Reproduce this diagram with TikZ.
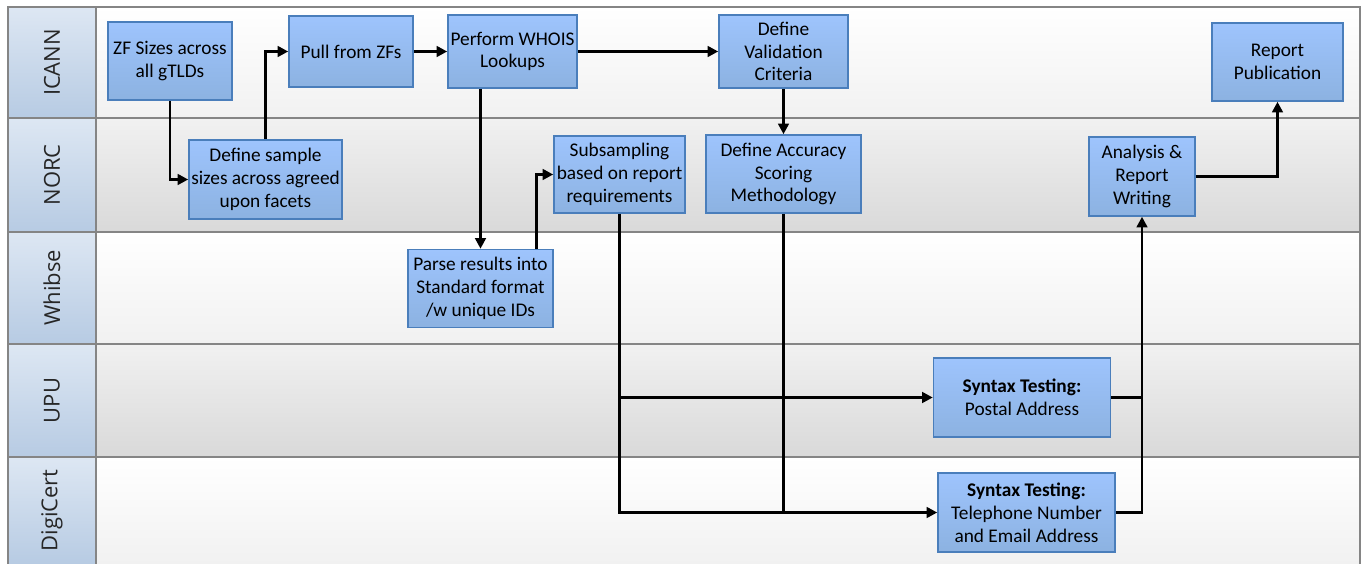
\documentclass[tikz,border=0pt]{standalone}
\usepackage{fontspec}
\setmainfont{Carlito}
\newfontfamily\lanefont{Open Sans}
\usetikzlibrary{positioning}
\usetikzlibrary{calc}
\usetikzlibrary{arrows.meta}
\definecolor{boxtop}{HTML}{9EC4FD}
\definecolor{boxbot}{HTML}{8CB2E1}
\definecolor{boxline}{HTML}{4A7EBB}
\definecolor{labtop}{HTML}{DDE7F3}
\definecolor{labbot}{HTML}{B7CBE3}
\definecolor{laneA}{HTML}{F1F1F1}
\definecolor{laneB}{HTML}{D9D9D9}
\definecolor{frameline}{HTML}{858585}

\begin{document}
\begin{tikzpicture}[x=0.02cm, y=-0.02cm, ->, >={Triangle[length=6pt,width=6pt]}, line width=1.6pt, task/.style={rectangle, draw=boxline, line width=0.9pt, top color=boxtop, bottom color=boxbot, align=center, inner sep=1pt}, lanelabel/.style={rotate=90, font=\lanefont\fontsize{12.5}{15}\selectfont, text=black!85}, every node/.style={font=\fontsize{11}{13}\selectfont}]

  \useasboundingbox (0,0) rectangle (1363,564);

  % swim lanes
  \begin{scope}[-]
  \foreach \yt/\yb/\ct/\cb/\lab in {7/118/white/laneA/ICANN, 118/232/laneA/laneB/NORC, 232/344/white/laneA/Whibse, 344/457/laneA/laneB/UPU, 457/564/white/laneA/DigiCert}
  {
    \shade[top color=\ct, bottom color=\cb] (96,\yt) rectangle (1360,\yb);
    \shade[top color=labtop, bottom color=labbot] (8,\yt) rectangle (96,\yb);
    \node[lanelabel] (lab-\lab) at (52,{(\yt+\yb)/2}) {\lab};
  }
  \draw[frameline, line width=1.2pt] (8,564) -- (8,7) -- (1360,7) -- (1360,564);
  \draw[frameline, line width=1.2pt] (96,7) -- (96,564);
  \foreach \y in {118,232,344,457}
    \draw[frameline, line width=1.2pt] (8,\y) -- (1360,\y);
  \end{scope}

  \node[task, minimum width=2.48cm, minimum height=1.56cm] (zf) at (170,61) {ZF Sizes across\\all gTLDs};
  \node[task, minimum width=3.06cm, minimum height=1.58cm] (sample) at (265.5,179.5) {Define sample\\sizes across agreed\\upon facets};
  \node[task, minimum width=2.48cm, minimum height=1.42cm] (pull) at (351,51.5) {Pull from ZFs};
  \node[task, minimum width=2.58cm, minimum height=1.46cm] (whois) at (512.5,51.5) {Perform WHOIS\\Lookups};
  \node[task, minimum width=2.58cm, minimum height=1.46cm] (valid) at (783.5,51.5) {Define\\Validation\\Criteria};
  \node[task, minimum width=2.62cm, minimum height=1.54cm] (subs) at (619.5,174.5) {Subsampling\\based on report\\requirements};
  \node[task, minimum width=3.10cm, minimum height=1.56cm] (accur) at (783.5,174) {Define Accuracy\\Scoring\\Methodology};
  \node[task, minimum width=2.12cm, minimum height=1.58cm] (analysis) at (1142,176.5) {Analysis \&\\Report\\Writing};
  \node[task, minimum width=2.62cm, minimum height=1.56cm] (report) at (1277.5,62) {Report\\Publication};
  \node[task, minimum width=2.90cm, minimum height=1.56cm] (parse) at (480.5,288.5) {Parse results into\\Standard format\\/w unique IDs};
  \node[task, minimum width=3.54cm, minimum height=1.58cm] (postal) at (1022,397.5) {\textbf{Syntax Testing:}\\Postal Address};
  \node[task, minimum width=3.54cm, minimum height=1.58cm] (phone) at (1026.5,512.5) {\textbf{Syntax Testing:}\\Telephone Number\\and Email Address};
  \coordinate (pout) at ($(parse.north east)+(-17,0)$);

  \draw (zf.south) |- (sample.west);
  \draw (sample.north) |- (pull.west);
  \draw (pull) -- (whois);
  \draw (whois) -- (valid);
  \draw (whois.south -| parse.north) -- (parse.north);
  \draw (pout) |- (subs.west);
  \draw (valid) -- (accur);
  \draw (subs.south) |- (postal.west);
  \draw (subs.south) |- (phone.west);
  \draw[-] (accur.south) -- (accur.south |- phone.west);
  \draw[-] (postal.east) -- (postal.east -| analysis.south);
  \draw (phone.east) -| (analysis.south);
  \draw (analysis.east) -| (report.south);
\end{tikzpicture}
\end{document}
